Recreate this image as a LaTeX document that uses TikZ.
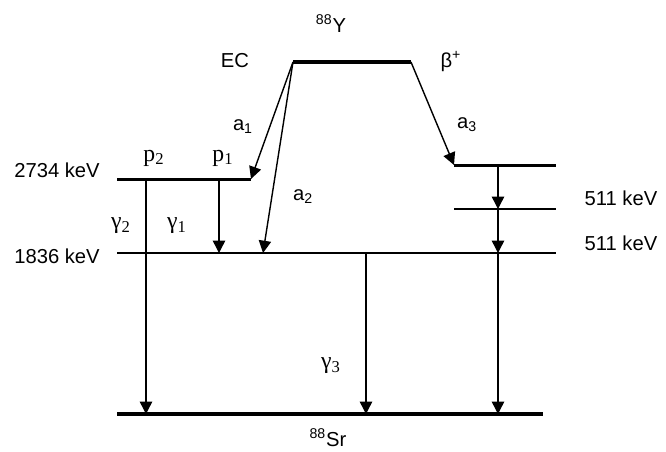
\documentclass[tikz,border=0pt]{standalone}
\usepackage{fontspec}
\setmainfont{Liberation Sans}
\newfontfamily\timesgr{Liberation Serif}
\usetikzlibrary{arrows.meta, positioning, calc}

\begin{document}
\begin{tikzpicture}[
    x=0.02cm, y=-0.02cm,
    font=\fontsize{11.5}{13}\selectfont,
    heavy/.style={line width=2.3pt},
    level/.style={line width=1.7pt},
    sublevel/.style={line width=1.2pt},
    trans/.style={line width=0.8pt, -{Triangle[length=7pt,width=7pt]}},
    lbl/.style={inner sep=0pt, anchor=base},
    glbl/.style={inner sep=0pt, font=\fontsize{13.5}{15}\timesgr}
]
\useasboundingbox (0,0) rectangle (666,451);

% level ends
\coordinate (yl) at (293,62);   \coordinate (yr) at (411,62);
\coordinate (pl) at (117,179);  \coordinate (pr) at (251,179);
\coordinate (ql) at (117,253);  \coordinate (qr) at (556,253);
\coordinate (bl) at (454,165);  \coordinate (br) at (556,165);
\coordinate (cl) at (454,209);  \coordinate (cr) at (556,209);
\coordinate (sl) at (117,414);  \coordinate (sr) at (543,414);

\draw[heavy] (yl) -- (yr);
\draw[level] (pl) -- (pr);
\draw[sublevel] (ql) -- (qr);
\draw[level] (bl) -- (br);
\draw[sublevel] (cl) -- (cr);
\draw[heavy] (sl) -- (sr);

% feeding from 88Y
\coordinate (a2end) at (263,253);
\draw[trans] (yl) -- (pr);
\draw[trans] (yl) -- (a2end);
\draw[trans] (yr) -- (bl);

% gamma transitions
\coordinate (g2top) at (146,179); \coordinate (g2bot) at (146,414);
\coordinate (g1top) at (219,179); \coordinate (g1bot) at (219,253);
\coordinate (g3top) at (366,253); \coordinate (g3bot) at (366,414);
\coordinate (r1) at (498,165); \coordinate (r2) at (498,209);
\coordinate (r3) at (498,253); \coordinate (r4) at (498,414);
\draw[trans] (g2top) -- (g2bot);
\draw[trans] (g1top) -- (g1bot);
\draw[trans] (g3top) -- (g3bot);
\draw[trans] (r1) -- (r2);
\draw[trans] (r2) -- (r3);
\draw[trans] (r3) -- (r4);

% labels
\node[lbl] (yname) at (331,32) {\textsuperscript{88}Y};
\node[lbl] (srname) at (328,446) {\textsuperscript{88}Sr};
\node[lbl] (ec) at (235,67) {EC};
\node[lbl] (bplus) at (451,67) {β\textsuperscript{+}};
\node[lbl] (e2734) at (57,177) {2734 keV};
\node[lbl] (e1836) at (57,263) {1836 keV};
\node[lbl] (e511a) at (621,205) {511 keV};
\node[lbl] (e511b) at (621,250) {511 keV};
\node[lbl] (a1) at (243,130) {a\textsubscript{1}};
\node[lbl] (a2) at (303,200) {a\textsubscript{2}};
\node[lbl] (a3) at (467,128) {a\textsubscript{3}};
\node[glbl] (p2) at (154,158) {p\textsubscript{2}};
\node[glbl] (p1) at (223,158) {p\textsubscript{1}};
\node[glbl] (gam2) at (121,226) {γ\textsubscript{2}};
\node[glbl] (gam1) at (177,226) {γ\textsubscript{1}};
\node[glbl] (gam3) at (331,366) {γ\textsubscript{3}};

\end{tikzpicture}
\end{document}
